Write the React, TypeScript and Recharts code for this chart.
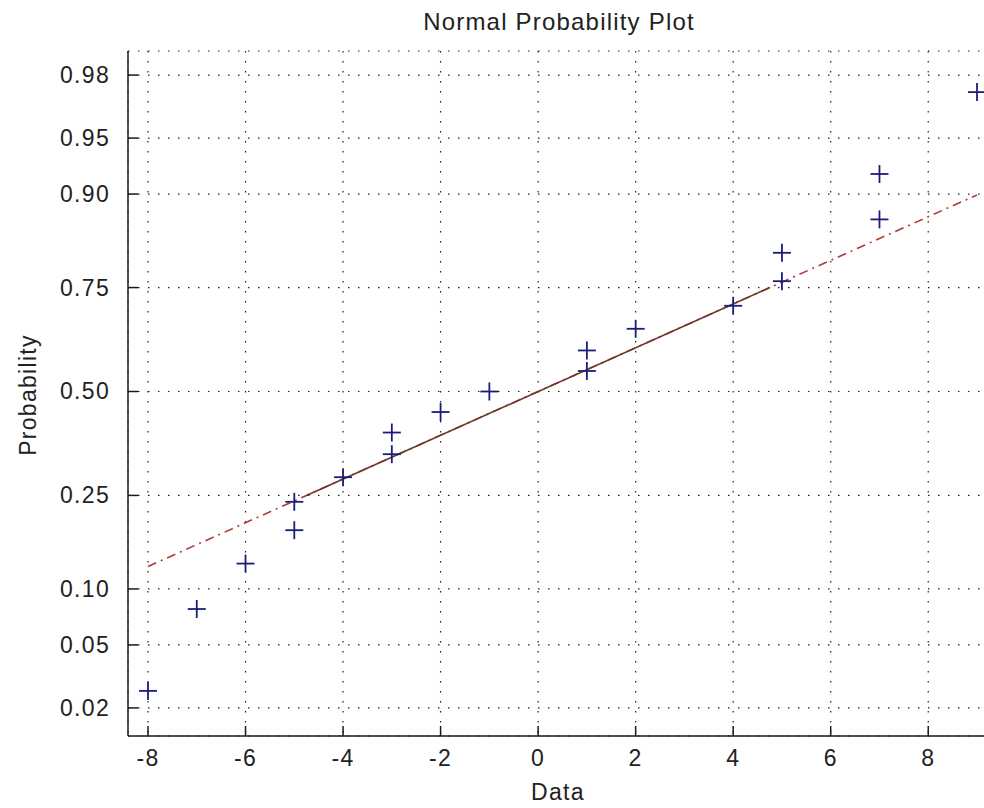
import { ComposedChart, Scatter, Line, XAxis, YAxis, CartesianGrid } from "recharts";

// sample values and their plotting positions
const dataX = [-8, -7, -6, -5, -5, -4, -3, -3, -2, -1, 1, 1, 2, 4, 5, 5, 7, 7, 9];
const dataP = [
  0.026, 0.079, 0.132, 0.184, 0.237, 0.289, 0.342, 0.395, 0.447, 0.5,
  0.553, 0.605, 0.658, 0.711, 0.763, 0.816, 0.868, 0.921, 0.974,
];

// reference line: extremes and quartiles
const fitX = [-8, -4.75, 4.75, 9];
const fitP = [0.128, 0.25, 0.75, 0.899];

const xTicks = [-8, -6, -4, -2, 0, 2, 4, 6, 8];
const probTicks = [0.02, 0.05, 0.1, 0.25, 0.5, 0.75, 0.9, 0.95, 0.98];
const probLabels = ["0.02", "0.05", "0.10", "0.25", "0.50", "0.75", "0.90", "0.95", "0.98"];

const FONT = "'Liberation Sans', Arial, sans-serif";
const INK = "#1a1a1a";

// inverse normal cdf (Acklam)
function probit(p: number): number {
  const a = [-39.69683028665376, 220.9460984245205, -275.9285104469687, 138.357751867269, -30.66479806614716, 2.506628277459239];
  const b = [-54.47609879822406, 161.5858368580409, -155.6989798598866, 66.80131188771972, -13.28068155288572];
  const c = [-0.007784894002430293, -0.3223964580411365, -2.400758277161838, -2.549732539343734, 4.374664141464968, 2.938163982698783];
  const d = [0.007784695709041462, 0.3224671290700398, 2.445134137142996, 3.754408661907416];
  const plow = 0.02425;
  if (p < plow) {
    const q = Math.sqrt(-2 * Math.log(p));
    return (((((c[0] * q + c[1]) * q + c[2]) * q + c[3]) * q + c[4]) * q + c[5]) /
      ((((d[0] * q + d[1]) * q + d[2]) * q + d[3]) * q + 1);
  }
  if (p <= 1 - plow) {
    const q = p - 0.5;
    const r = q * q;
    return ((((((a[0] * r + a[1]) * r + a[2]) * r + a[3]) * r + a[4]) * r + a[5]) * q) /
      (((((b[0] * r + b[1]) * r + b[2]) * r + b[3]) * r + b[4]) * r + 1);
  }
  const q = Math.sqrt(-2 * Math.log(1 - p));
  return -(((((c[0] * q + c[1]) * q + c[2]) * q + c[3]) * q + c[4]) * q + c[5]) /
    ((((d[0] * q + d[1]) * q + d[2]) * q + d[3]) * q + 1);
}

const points = dataX.map((x, i) => ({ x, z: probit(dataP[i]) }));
const fitFull = fitX.map((x, i) => ({ x, z: probit(fitP[i]) }));
const fitMid = fitFull.slice(1, 3);
const zTicks = probTicks.map(probit);

const textStyle = { fontFamily: FONT, fontSize: 23, fill: "#222", letterSpacing: 1.3 };

function BottomTick({ x, y, payload }: any) {
  return (
    <g>
      <line x1={x} x2={x} y1={y} y2={y - 10} stroke={INK} strokeWidth={1.5} />
      <text x={x} y={y + 30} textAnchor="middle" {...textStyle}>
        {payload.value}
      </text>
    </g>
  );
}

function TopTick({ x, y }: any) {
  return <line x1={x} x2={x} y1={y} y2={y + 10} stroke={INK} strokeWidth={1.5} />;
}

function LeftTick({ x, y, index }: any) {
  return (
    <g>
      <line x1={x} x2={x + 10} y1={y} y2={y} stroke={INK} strokeWidth={1.5} />
      <text x={x - 18} y={y + 8} textAnchor="end" {...textStyle}>
        {probLabels[index]}
      </text>
    </g>
  );
}

function Plus({ cx, cy }: any) {
  return (
    <g stroke="#1c1c7a" strokeWidth={1.8}>
      <line x1={cx - 9} x2={cx + 9} y1={cy} y2={cy} />
      <line x1={cx} x2={cx} y1={cy - 9} y2={cy + 9} />
    </g>
  );
}

export default function App() {
  return (
    <div style={{ position: "fixed", left: 0, top: 0, width: 984, height: 808, overflow: "hidden", background: "#fff" }}>
      <ComposedChart
        width={1020}
        height={808}
        margin={{ top: 51, right: 23, left: 0, bottom: 0 }}
      >
        <CartesianGrid stroke="#222" strokeDasharray="1.5 8.5" strokeWidth={1.2} />
        <XAxis
          type="number"
          dataKey="x"
          domain={[-8.41, 9.41]}
          ticks={xTicks}
          allowDataOverflow
          height={72}
          tickSize={0}
          tickMargin={0}
          tickLine={false}
          axisLine={{ stroke: INK, strokeWidth: 1.5 }}
          tick={<BottomTick />}
          interval={0}
        />
        <XAxis
          xAxisId="top"
          orientation="top"
          type="number"
          dataKey="x"
          domain={[-8.41, 9.41]}
          ticks={xTicks}
          allowDataOverflow
          height={0}
          tickSize={0}
          tickMargin={0}
          tickLine={false}
          axisLine={{ stroke: INK, strokeWidth: 1.5 }}
          tick={<TopTick />}
          interval={0}
        />
        <YAxis
          type="number"
          dataKey="z"
          domain={[-2.236, 2.21]}
          ticks={zTicks}
          allowDataOverflow
          width={128}
          tickSize={0}
          tickMargin={0}
          tickLine={false}
          axisLine={{ stroke: INK, strokeWidth: 1.5 }}
          tick={<LeftTick />}
          interval={0}
        />
        <Line
          data={fitFull}
          dataKey="z"
          type="linear"
          stroke="#b03a3a"
          strokeWidth={1.6}
          strokeDasharray="9 5 2 5"
          dot={false}
          activeDot={false}
          isAnimationActive={false}
        />
        <Line
          data={fitMid}
          dataKey="z"
          type="linear"
          stroke="#6a3a2a"
          strokeWidth={1.6}
          dot={false}
          activeDot={false}
          isAnimationActive={false}
        />
        <Scatter data={points} dataKey="z" shape={<Plus />} isAnimationActive={false} />
      </ComposedChart>
      <svg width={984} height={808} style={{ position: "absolute", left: 0, top: 0, pointerEvents: "none" }}>
        <text x={559} y={30} textAnchor="middle" fontFamily={FONT} fontSize={24} fill="#222" letterSpacing={1.2}>
          Normal Probability Plot
        </text>
        <text x={558} y={800} textAnchor="middle" {...textStyle}>
          Data
        </text>
        <text x={36} y={395} textAnchor="middle" transform="rotate(-90 36 395)" {...textStyle}>
          Probability
        </text>
      </svg>
    </div>
  );
}
